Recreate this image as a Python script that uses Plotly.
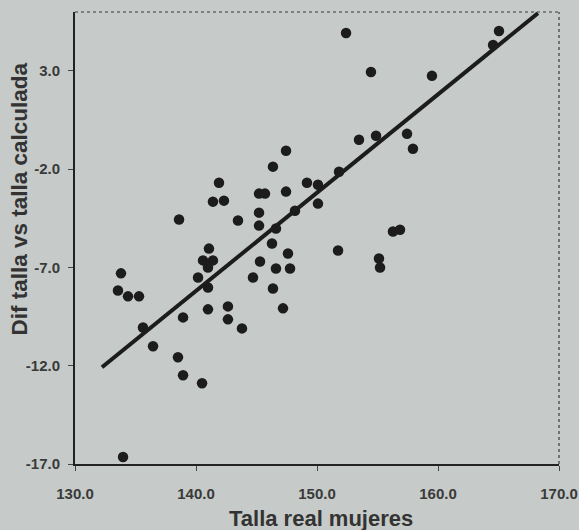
import plotly.graph_objects as go

# Data
talla_real = [133.97, 133.80, 133.55, 134.38, 135.29, 135.62, 136.45, 138.51, 138.93, 140.50,
              138.93, 140.99, 142.64, 142.64, 143.80, 140.99, 140.17, 140.58, 141.40, 140.99,
              141.07, 138.60, 141.90, 141.40, 142.31, 145.21, 145.70, 147.44, 146.36, 147.44,
              149.17, 150.08, 150.08, 145.21, 143.47, 145.21, 146.61, 146.28, 147.60, 145.29,
              146.61, 147.77, 144.71, 146.36, 147.19, 148.18, 152.40, 154.46, 159.50, 165.04,
              164.55, 153.47, 154.88, 157.44, 157.93, 151.82, 156.28, 156.86, 151.74, 155.12,
              155.21]
dif_talla = [-16.64, -7.30, -8.17, -8.47, -8.47, -10.05, -11.01, -11.57, -12.48, -12.89,
             -9.54, -9.13, -8.98, -9.64, -10.10, -8.02, -7.51, -6.64, -6.64, -7.00,
             -6.04, -4.56, -2.69, -3.65, -3.60, -3.24, -3.24, -1.06, -1.87, -3.14,
             -2.69, -2.79, -3.75, -4.21, -4.61, -4.87, -5.02, -5.78, -6.29, -6.70,
             -7.05, -7.05, -7.51, -8.07, -9.08, -4.11, 4.93, 2.95, 2.75, 5.03,
             4.32, -0.50, -0.30, -0.20, -0.96, -2.13, -5.17, -5.08, -6.14, -6.54,
             -7.00]

# Fitted line
fit_x = [132.23, 168.26]
fit_y = [-12.08, 5.94]

x_ticks = [130, 140, 150, 160, 170]
x_tick_labels = ["130.0", "140.0", "150.0", "160.0", "170.0"]
y_ticks = [-17, -12, -7, -2, 3]
y_tick_labels = ["-17.0", "-12.0", "-7.0", "-2.0", "3.0"]

x_title = "Talla real mujeres"
y_title = "Dif talla vs talla calculada"

x_range = [130, 170]
y_range = [-17, 6]

bg = "#c6cac8"
ink = "#1c1c1c"
font_family = "Liberation Sans, Arial, sans-serif"

fig = go.Figure()
fig.add_trace(go.Scatter(
    x=talla_real, y=dif_talla, mode="markers",
    marker=dict(size=10.5, color=ink, symbol="circle", line=dict(width=0)),
    showlegend=False, hoverinfo="x+y"))
fig.add_trace(go.Scatter(
    x=fit_x, y=fit_y, mode="lines",
    line=dict(color=ink, width=4),
    showlegend=False, hoverinfo="skip"))

# Dotted top and right frame
fig.add_shape(type="line", xref="paper", yref="paper", x0=0, x1=1, y0=1, y1=1,
              line=dict(color="#3a3a3a", width=1.2, dash="dot"))
fig.add_shape(type="line", xref="paper", yref="paper", x0=1, x1=1, y0=0, y1=1,
              line=dict(color="#3a3a3a", width=1.2, dash="dot"))

# Axis titles
fig.add_annotation(text="<b>" + x_title + "</b>", xref="paper", yref="paper",
                   x=0.508, y=-0.1195, xanchor="center", yanchor="middle",
                   showarrow=False, font=dict(size=22, color="#333333", family=font_family))
fig.add_annotation(text="<b>" + y_title + "</b>", xref="paper", yref="paper",
                   x=-0.1136, y=0.585, xanchor="center", yanchor="middle", textangle=-90,
                   showarrow=False, font=dict(size=22.5, color="#333333", family=font_family))

fig.update_layout(
    width=579, height=530,
    margin=dict(l=75, r=20, t=12, b=66),
    paper_bgcolor=bg, plot_bgcolor=bg,
    font=dict(family=font_family, color="#333333"),
    xaxis=dict(
        range=x_range, tickvals=x_ticks, ticktext=x_tick_labels,
        showgrid=False, zeroline=False, automargin=False,
        showline=True, linecolor="#222222", linewidth=2,
        ticks="outside", ticklen=5, tickcolor="#444444", tickwidth=1,
        ticklabelstandoff=10,
        tickfont=dict(size=15, family=font_family, color="#3a3a3a", weight="bold"),
    ),
    yaxis=dict(
        range=y_range, tickvals=y_ticks, ticktext=y_tick_labels,
        showgrid=False, zeroline=False, automargin=False,
        showline=True, linecolor="#222222", linewidth=2,
        ticks="outside", ticklen=5, tickcolor="#444444", tickwidth=1,
        ticklabelstandoff=5,
        tickfont=dict(size=15, family=font_family, color="#3a3a3a", weight="bold"),
    ),
)

fig.write_html("out.html", config={"displayModeBar": False},
               post_script="document.body.style.margin='0';document.body.style.overflow='hidden';")
